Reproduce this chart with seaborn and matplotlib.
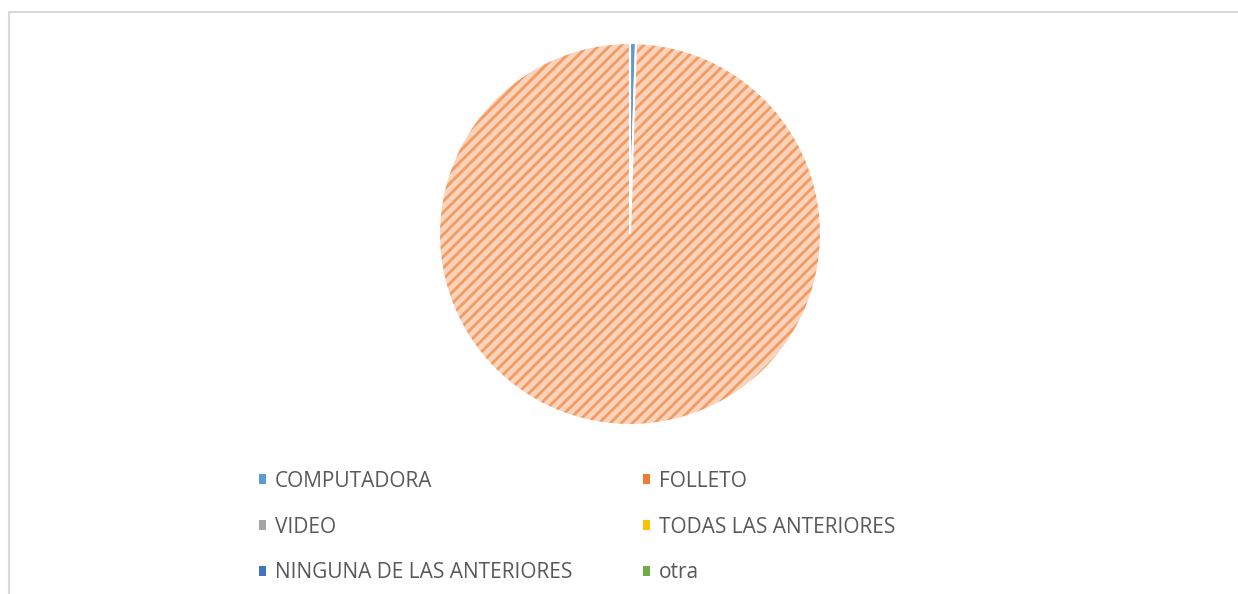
import matplotlib
matplotlib.use("Agg")
import matplotlib.pyplot as plt
import seaborn as sns
from matplotlib.patches import Patch
from matplotlib.lines import Line2D

categories = ["COMPUTADORA", "FOLLETO", "VIDEO", "TODAS LAS ANTERIORES",
              "NINGUNA DE LAS ANTERIORES", "otra"]
values = [1, 199, 0, 0, 0, 0]
colors = ["#5B9BD5", "#ED7D31", "#A5A5A5", "#FFC000", "#4472C4", "#70AD47"]
light = ["#5B9BD5", "#FAD3BA", "#A5A5A5", "#FFC000", "#4472C4", "#70AD47"]

sns.set_theme(style="white")
plt.rcParams['font.family'] = ['Open Sans', 'DejaVu Sans']
plt.rcParams['hatch.linewidth'] = 2.0

W, H = 1238, 594
fig = plt.figure(figsize=(W / 100, H / 100), dpi=100)

cx, cy, r = 630, 234, 191
ax = fig.add_axes([(cx - r) / W, (H - cy - r) / H, 2 * r / W, 2 * r / H])
nz = [(v, c, l) for v, c, l in zip(values, colors, light) if v > 0]
wedges, _ = ax.pie([v for v, _, _ in nz], colors=[l for _, _, l in nz],
                   startangle=90, counterclock=False, radius=1,
                   wedgeprops=dict(edgecolor="white", linewidth=1.5))
for w, (v, c, l) in zip(wedges, nz):
    if c == "#ED7D31":
        w.set_hatch("///")
        w._hatch_color = matplotlib.colors.to_rgba("#F29B62")
ax.set_xlim(-1, 1)
ax.set_ylim(-1, 1)
ax.set_aspect("equal")
ax.axis("off")

# outer chart frame (partially visible)
fig.add_artist(Line2D([8.5 / W, 8.5 / W], [0, 1 - 11.5 / H], color="#D9D9D9", lw=1.5))
fig.add_artist(Line2D([8.5 / W, 1], [1 - 11.5 / H, 1 - 11.5 / H], color="#D9D9D9", lw=1.5))

# legend: row-major order like the reference (2 columns)
order = [0, 2, 4, 1, 3, 5]
handles = [Patch(facecolor=colors[i], edgecolor="none") for i in order]
labels = [categories[i] for i in order]
leg = fig.legend(handles, labels, ncol=2, loc="upper left",
                 bbox_to_anchor=(240 / W, 1 - 452 / H), frameon=False,
                 fontsize=15, labelcolor="#595959", handlelength=0.33,
                 handleheight=0.33, handletextpad=0.43, columnspacing=3.4,
                 labelspacing=1.19)

fig.savefig("out.png", dpi=100, facecolor="white")
